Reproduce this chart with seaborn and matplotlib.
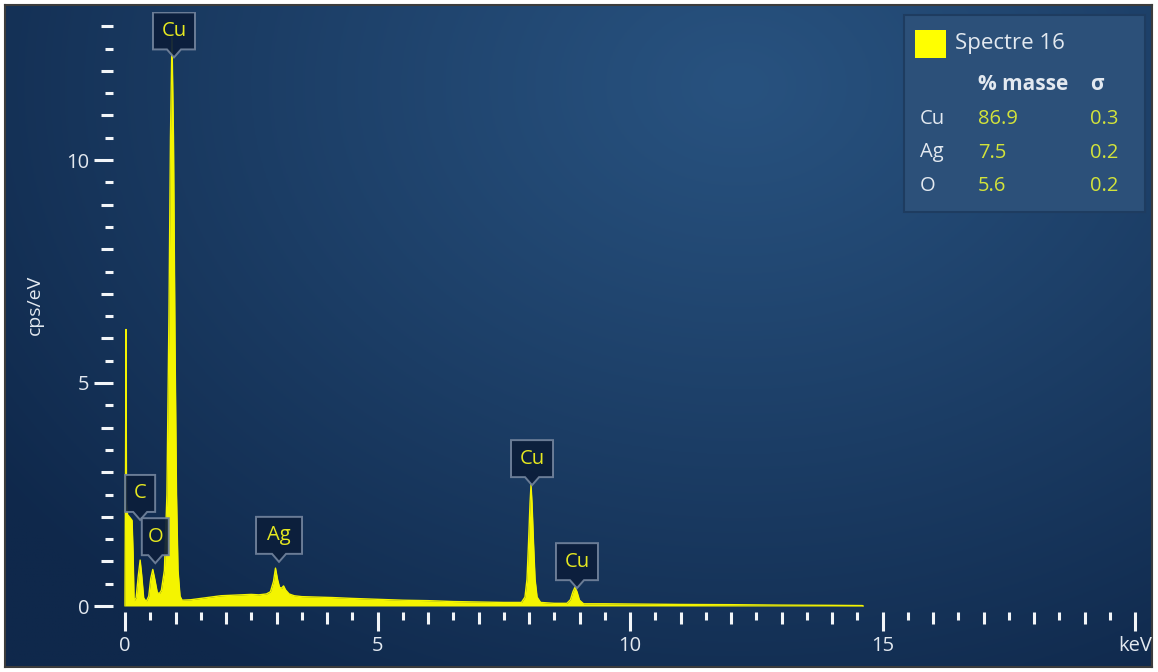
import numpy as np
import matplotlib
matplotlib.use("Agg")
import matplotlib.pyplot as plt
import matplotlib.patches as mpatches
import matplotlib.transforms as mtransforms
from matplotlib.ticker import FixedLocator, NullLocator
import seaborn as sns

# EDS spectrum (keV, cps/eV)
energy = [0.00, 0.01, 0.02, 0.03, 0.05, 0.10, 0.14, 0.16, 0.18, 0.22, 0.26, 0.30, 0.33, 0.37,
          0.42, 0.47, 0.51, 0.55, 0.59, 0.64, 0.68, 0.72, 0.78, 0.83, 0.87, 0.90, 0.93, 0.96,
          0.99, 1.02, 1.05, 1.09, 1.13, 1.3, 1.5, 1.7, 1.9, 2.1, 2.3, 2.5, 2.65, 2.8,
          2.88, 2.94, 2.98, 3.02, 3.06, 3.10, 3.14, 3.18, 3.25, 3.35, 3.5, 3.8, 4.1, 4.5,
          5.0, 5.5, 6.0, 6.5, 7.0, 7.5, 7.85, 7.92, 7.96, 7.99, 8.02, 8.04, 8.06, 8.09,
          8.12, 8.16, 8.23, 8.5, 8.75, 8.82, 8.87, 8.91, 8.95, 9.00, 9.08, 9.5, 10.0, 11.0,
          12.0, 13.0, 14.0, 14.6, 14.62]
cps = [0.00, 3.0, 6.2, 2.3, 2.05, 1.98, 1.92, 1.2, 0.12, 0.18, 0.65, 1.03, 0.7, 0.18,
       0.10, 0.22, 0.62, 0.82, 0.6, 0.3, 0.28, 0.35, 0.8, 2.5, 6.5, 10.5, 12.75, 10.5,
       6.0, 2.5, 0.8, 0.22, 0.13, 0.14, 0.17, 0.20, 0.23, 0.24, 0.25, 0.26, 0.25, 0.27,
       0.32, 0.55, 0.85, 0.6, 0.42, 0.40, 0.45, 0.36, 0.27, 0.23, 0.21, 0.20, 0.19, 0.17,
       0.15, 0.13, 0.12, 0.10, 0.09, 0.08, 0.08, 0.2, 0.6, 1.4, 2.3, 2.72, 2.3, 1.4,
       0.6, 0.2, 0.08, 0.06, 0.06, 0.14, 0.32, 0.42, 0.32, 0.13, 0.05, 0.05, 0.045, 0.035,
       0.03, 0.02, 0.015, 0.01, 0.0]

# peak labels: element, energy of the pointer tip, height of the tip
peak_labels = ['Cu', 'C', 'O', 'Ag', 'Cu', 'Cu']
peak_energy = [0.97, 0.30, 0.60, 3.05, 8.06, 8.95]
peak_tip = [12.3, 1.93, 0.96, 0.99, 2.71, 0.40]

# quantification table
elements = ['Cu', 'Ag', 'O']
mass_pct = ['86.9', '7.5', '5.6']
sigma = ['0.3', '0.2', '0.2']
spectrum_name = 'Spectre 16'

W, H = 1158, 672
yellow = '#f4f400'
txt = '#e3e9f0'
valcol = '#d3e33a'
tickc = '#f2f5f8'

sns.set_theme(style='dark')
plt.rcParams['font.family'] = ['Open Sans', 'DejaVu Sans']

fig = plt.figure(figsize=(W / 100, H / 100), dpi=100, facecolor='white')

# background with soft glow
bg = fig.add_axes([5 / W, 5 / H, 1147 / W, 662 / H], zorder=0)
gx, gy = np.meshgrid(np.linspace(0, 1, 400), np.linspace(0, 1, 240))
r = np.sqrt(((gx - 0.64) / 0.8) ** 2 + ((gy - 0.88) / 1.05) ** 2)
t = np.clip(r, 0, 1) ** 1.1
c0 = np.array(matplotlib.colors.to_rgb('#28527f'))
c1 = np.array(matplotlib.colors.to_rgb('#0f284b'))
img = c0[None, None, :] * (1 - t[..., None]) + c1[None, None, :] * t[..., None]
bg.imshow(img, origin='lower', aspect='auto', extent=[0, 1, 0, 1])
bg.set_xticks([])
bg.set_yticks([])
for s in bg.spines.values():
    s.set_color('#3c3c3c')
    s.set_linewidth(1.5)

# main axes in pixel geometry: x=0 at px 125 (50.5 px/keV), y=0 at px 606 (44.6 px/unit)
left, right, bottom, top = 113, 1145, 612, 12
ax = fig.add_axes([left / W, 1 - bottom / H, (right - left) / W, (bottom - top) / H], zorder=1)
ax.set_facecolor('none')
ax.set_xlim((left - 125) / 50.5, (right - 125) / 50.5)
ax.set_ylim(-(bottom - 606) / 44.6, (606 - top) / 44.6)

ax.fill_between(energy, 0, cps, color=yellow, lw=0)
sns.lineplot(x=energy, y=cps, ax=ax, color=yellow, lw=1.0, sort=False)

for s in ax.spines.values():
    s.set_visible(False)
ax.grid(False)

# ticks: multiples of 5 long, integers medium, halves short
ax.set_xticks([0, 5, 10, 15, 20])
ax.set_xticklabels(['0', '5', '10', '15', 'keV'])
ax.xaxis.set_minor_locator(FixedLocator([v for v in range(1, 20) if v % 5]))
ax.set_yticks([0, 5, 10])
ax.yaxis.set_minor_locator(FixedLocator([v for v in range(1, 14) if v % 5]))
ax.tick_params(which='both', bottom=True, left=True, direction='out', color=tickc)
ax.tick_params(which='major', length=14, width=2.2, labelcolor=txt, labelsize=14.5, pad=3)
ax.tick_params(which='minor', length=8.5, width=2.2)

secx = ax.secondary_xaxis('bottom')
secx.set_xticks(np.arange(0.5, 20, 1.0))
secx.xaxis.set_minor_locator(NullLocator())
secx.tick_params(which='major', bottom=True, direction='out', length=5.5, width=2.2,
                 color=tickc, labelbottom=False)
secx.spines['bottom'].set_visible(False)
secy = ax.secondary_yaxis('left')
secy.set_yticks(np.arange(0.5, 13.1, 1.0))
secy.yaxis.set_minor_locator(NullLocator())
secy.tick_params(which='major', left=True, direction='out', length=5.5, width=2.2,
                 color=tickc, labelleft=False)
secy.spines['left'].set_visible(False)

fig.text(35 / W, 1 - 305 / H, 'cps/eV', rotation=90, ha='center', va='center',
         color=txt, fontsize=14)

# peak label boxes with a notch pointing at the peak
box_w = {'Cu': 42, 'C': 30, 'O': 27, 'Ag': 46}
bh, notch = 37, 8
for lab, e, tip in zip(peak_labels, peak_energy, peak_tip):
    tr = fig.dpi_scale_trans + mtransforms.ScaledTranslation(e, tip, ax.transData)
    w = box_w[lab] / 2
    verts = np.array([(0, 0), (7, notch), (w, notch), (w, notch + bh), (-w, notch + bh),
                      (-w, notch), (-7, notch)]) / 100
    ax.add_patch(mpatches.Polygon(verts, closed=True, transform=tr, fc='#0c1e3b',
                                  ec='#72839c', lw=1.4, alpha=0.93, zorder=5))
    ax.text(0, (notch + bh / 2) / 100, lab, transform=tr, ha='center', va='center',
            color='#e6e820', fontsize=14.5, zorder=6)

# quantification table box
fig.patches.append(mpatches.Rectangle((904 / W, 1 - 212 / H), 241 / W, 197 / H,
                                      transform=fig.transFigure, fc='#2c5079',
                                      ec='#1e3c60', lw=1.5, zorder=3))
fig.patches.append(mpatches.Rectangle((915 / W, 1 - 58 / H), 31 / W, 28 / H,
                                      transform=fig.transFigure, fc='#ffff00',
                                      ec='none', zorder=4))
fig.text(955 / W, 1 - 44 / H, spectrum_name, color=txt, fontsize=16, va='center', zorder=5)
fig.text(978 / W, 1 - 85 / H, '% masse', color=txt, fontsize=15, fontweight='bold',
         va='center', zorder=5)
fig.text(1090 / W, 1 - 85 / H, 'σ', color=txt, fontsize=15, fontweight='bold',
         va='center', zorder=5)
for i, (el, m, s) in enumerate(zip(elements, mass_pct, sigma)):
    yy = 1 - (119 + 33.5 * i) / H
    fig.text(920 / W, yy, el, color=txt, fontsize=14.5, va='center', zorder=5)
    fig.text(978 / W, yy, m, color=valcol, fontsize=14.5, va='center', zorder=5)
    fig.text(1090 / W, yy, s, color=valcol, fontsize=14.5, va='center', zorder=5)

fig.savefig('out.png', dpi=100, facecolor='white')
